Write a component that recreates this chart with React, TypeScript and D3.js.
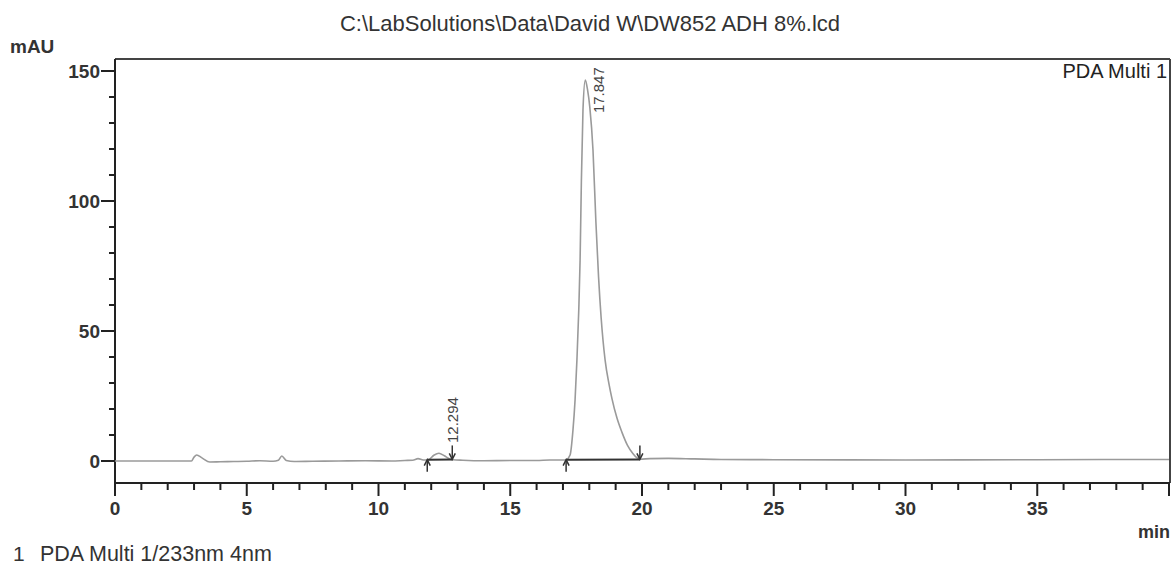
import React from "react";
import * as d3 from "d3";

const title = "C:\\LabSolutions\\Data\\David W\\DW852 ADH 8%.lcd";
const channelName = "PDA Multi 1";
const footerIndex = "1";
const footer = "PDA Multi 1/233nm 4nm";

// trace: [time (min), mAU]
const traceTime = [
  0, 2.9, 3.0, 3.1, 3.3, 3.6, 4.0, 4.5, 5.0, 5.5, 6.0, 6.2, 6.33, 6.5, 6.8, 7.5, 8.5, 9.5, 10.5, 11.0,
  11.3, 11.5, 11.7, 11.9, 12.1, 12.294, 12.5, 12.7, 12.83, 13.2, 14, 15, 16, 16.5, 17.0, 17.12, 17.27,
  17.38, 17.46, 17.53, 17.6, 17.65, 17.7, 17.76, 17.847, 17.93, 18.02, 18.14, 18.25, 18.35, 18.45, 18.6,
  18.75, 18.86, 19.05, 19.24, 19.45, 19.66, 19.8, 19.92, 20.3, 21, 22, 23, 25, 30, 35, 40,
];
const traceValue = [
  0, 0, 1.5, 2.3, 1.2, -0.4, -0.3, -0.2, -0.1, 0.1, -0.1, 0.3, 1.9, 0.2, -0.2, -0.1, 0, 0.1, 0, 0.2,
  0.3, 0.9, 0.4, 0.5, 2.2, 3.0, 2.0, 0.8, 0.5, 0.3, 0.1, 0.2, 0.2, 0.4, 0.4, 0.5, 2.3,
  11.9, 23.5, 38.8, 58, 77, 108, 135, 146.5, 143, 136, 119.6, 92, 71, 55, 38.8,
  29.5, 24, 16.5, 11, 6.0, 2.8, 1.3, 0.7, 0.9, 1.0, 0.8, 0.6, 0.5, 0.4, 0.5, 0.6,
];

// integrated peaks
const peakRT = ["12.294", "17.847"];
const peakHeight = [3.0, 146.5];
const peakStart = [11.85, 17.12];
const peakEnd = [12.8, 19.92];
const peakStartValue = [0.5, 0.5];
const peakEndValue = [0.6, 0.6];

const xMajor = [0, 5, 10, 15, 20, 25, 30, 35, 40];
const xLabels = ["0", "5", "10", "15", "20", "25", "30", "35", ""];
const yMajor = [0, 50, 100, 150];

const W = 1173;
const H = 565;
const font = "'Liberation Sans', Arial, sans-serif";
const traceColor = "#9a9a9a";
const axisColor = "#222";

export default function App() {
  const x = d3.scaleLinear().domain([0, 40]).range([115, 1169]);
  const y = d3.scaleLinear().domain([0, 150]).range([461, 71]);
  const top = 59;
  const bottom = 483;

  const xMinor = d3.range(0, 41, 1).filter((v) => v % 5 !== 0);
  const yMinor = d3.range(10, 151, 10).filter((v) => v % 50 !== 0);

  const pts: [number, number][] = traceTime.map((t, i) => [t, traceValue[i]]);
  const line = d3
    .line<[number, number]>()
    .x((d) => x(d[0]))
    .y((d) => y(d[1]))
    .curve(d3.curveMonotoneX);

  return (
    <svg width={W} height={H} style={{ position: "absolute", left: 0, top: 0, background: "#fff" }} fontFamily={font}>
      <text x={590} y={31} textAnchor="middle" fontSize={22} fill="#333">
        {title}
      </text>
      <text x={10} y={53} fontSize={19} fontWeight="bold" fill="#333">
        mAU
      </text>

      {/* frame */}
      <line x1={115} x2={1170} y1={top} y2={top} stroke="#444" strokeWidth={2} />
      <line x1={1170} x2={1170} y1={top} y2={bottom} stroke="#444" strokeWidth={2} />
      <line x1={115} x2={115} y1={top} y2={bottom} stroke={axisColor} strokeWidth={2} />
      <line x1={115} x2={1170} y1={bottom} y2={bottom} stroke={axisColor} strokeWidth={2} />

      {/* y ticks */}
      {yMajor.map((v) => (
        <g key={"ym" + v}>
          <line x1={101} x2={115} y1={y(v)} y2={y(v)} stroke={axisColor} strokeWidth={2} />
          <text x={100} y={y(v)} dy="0.36em" textAnchor="end" fontSize={19} fontWeight="bold" fill="#333">
            {v}
          </text>
        </g>
      ))}
      {yMinor.map((v) => (
        <line key={"yn" + v} x1={109} x2={115} y1={y(v)} y2={y(v)} stroke={axisColor} strokeWidth={2} />
      ))}

      {/* x ticks */}
      {xMajor.map((v, i) => (
        <g key={"xm" + v}>
          <line x1={x(v)} x2={x(v)} y1={bottom} y2={bottom + 13} stroke={axisColor} strokeWidth={2} />
          <text x={x(v)} y={515} textAnchor="middle" fontSize={19} fontWeight="bold" fill="#333">
            {xLabels[i]}
          </text>
        </g>
      ))}
      {xMinor.map((v) => (
        <line key={"xn" + v} x1={x(v)} x2={x(v)} y1={bottom} y2={bottom + 7} stroke={axisColor} strokeWidth={2} />
      ))}

      <text x={1170} y={538} textAnchor="end" fontSize={18} fontWeight="bold" fill="#333">
        min
      </text>
      <text x={1167} y={78} textAnchor="end" fontSize={20} fill="#222">
        {channelName}
      </text>

      {/* trace */}
      <path d={line(pts) ?? ""} fill="none" stroke={traceColor} strokeWidth={1.6} />

      {/* integration baselines and markers */}
      {peakRT.map((rt, i) => {
        const x0 = x(peakStart[i]);
        const y0 = y(peakStartValue[i]);
        const x1 = x(peakEnd[i]);
        const y1 = y(peakEndValue[i]);
        const lx = x(+rt) + 19;
        const ly = Math.min(y(peakHeight[i]) + 33, y(0) - 18);
        return (
          <g key={rt}>
            <line x1={x0} y1={y0} x2={x1} y2={y1} stroke="#333" strokeWidth={2} />
            <line x1={x0} x2={x0} y1={y0 + 12} y2={y0 + 1} stroke="#333" strokeWidth={1.5} />
            <path d={`M${x0 - 3},${y0 + 6} L${x0},${y0} L${x0 + 3},${y0 + 6}`} fill="none" stroke="#333" strokeWidth={1.5} />
            <line x1={x1} x2={x1} y1={y1 - 14} y2={y1 - 1} stroke="#333" strokeWidth={1.5} />
            <path d={`M${x1 - 3},${y1 - 6} L${x1},${y1} L${x1 + 3},${y1 - 6}`} fill="none" stroke="#333" strokeWidth={1.5} />
            <text transform={`translate(${lx},${ly}) rotate(-90)`} fontSize={15} fill="#444">
              {rt}
            </text>
          </g>
        );
      })}

      <text x={13} y={561} fontSize={21} fill="#333">
        {footerIndex}
      </text>
      <text x={40} y={561} fontSize={21.5} fill="#333">
        {footer}
      </text>
    </svg>
  );
}
